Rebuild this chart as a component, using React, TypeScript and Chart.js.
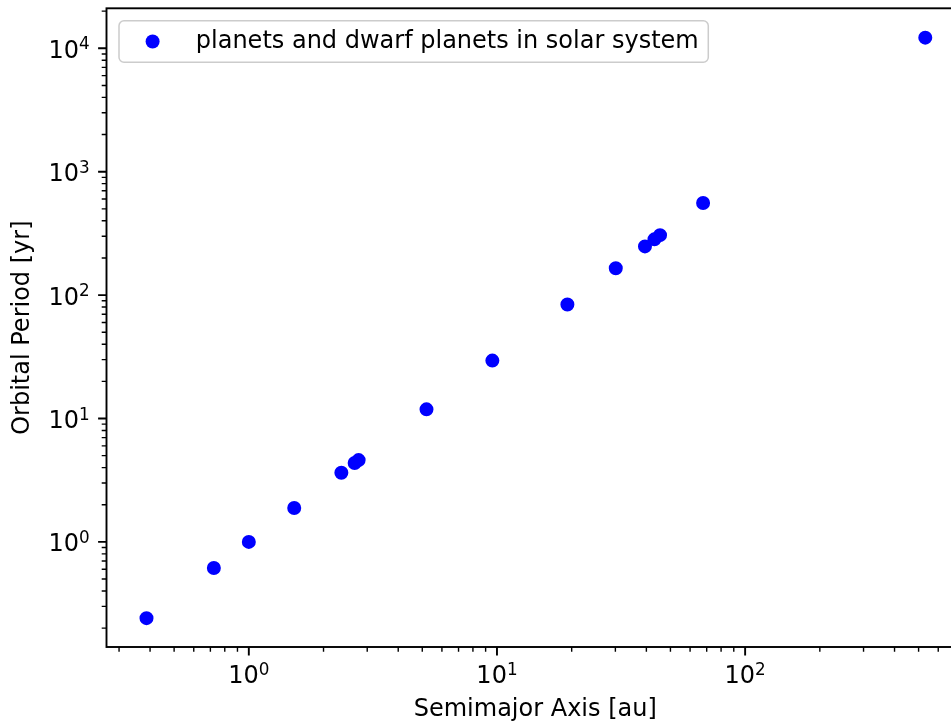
import { useEffect, useRef } from 'react';
import { Chart, registerables } from 'chart.js';

Chart.register(...registerables);

// Solar-system bodies: semimajor axis [au] vs. orbital period [yr]
const bodies = ['Mercury', 'Venus', 'Earth', 'Mars', 'Vesta', 'Juno', 'Ceres', 'Jupiter', 'Saturn', 'Uranus', 'Neptune', 'Pluto', 'Haumea', 'Makemake', 'Eris', 'Sedna'];
const semimajorAxisAu = [0.387, 0.723, 1.0, 1.524, 2.36, 2.67, 2.77, 5.2, 9.58, 19.22, 30.11, 39.48, 43.1, 45.4, 67.7, 532];
const orbitalPeriodYr = [0.241, 0.615, 1.0, 1.881, 3.63, 4.36, 4.6, 11.86, 29.46, 84.01, 164.8, 248.0, 283, 306, 557, 12200];

const xMajorTicks = [1, 10, 100];
const yMajorTicks = [1, 10, 100, 1000, 10000];
const xLimits = [0.267, 762];
const yLimits = [0.1407, 21090];

const seriesLabel = 'planets and dwarf planets in solar system';
const xTitle = 'Semimajor Axis [au]';
const yTitle = 'Orbital Period [yr]';

const FONT = 'DejaVu Sans';
const FONT_SIZE = 24;
const EXP_SIZE = FONT_SIZE * 0.7;
const EXP_RAISE = 8.3;

// 2..9 × 10^k between the limits
const minorTicks = (lo: number, hi: number) => {
  const out: number[] = [];
  for (let k = Math.floor(Math.log10(lo)); k <= Math.ceil(Math.log10(hi)); k++) {
    for (let m = 2; m <= 9; m++) {
      const v = m * Math.pow(10, k);
      if (v >= lo && v <= hi) out.push(v);
    }
  }
  return out;
};

// "10" with a raised, smaller exponent
const drawPowerLabel = (ctx: CanvasRenderingContext2D, v: number, x: number, baseline: number, align: 'center' | 'right') => {
  const e = String(Math.round(Math.log10(v)));
  ctx.font = `${FONT_SIZE}px "${FONT}"`;
  const wb = ctx.measureText('10').width;
  ctx.font = `${EXP_SIZE}px "${FONT}"`;
  const we = ctx.measureText(e).width;
  const total = wb + we;
  const x0 = align === 'center' ? x - total / 2 : x - total;
  ctx.font = `${FONT_SIZE}px "${FONT}"`;
  ctx.fillText('10', x0, baseline);
  ctx.font = `${EXP_SIZE}px "${FONT}"`;
  ctx.fillText(e, x0 + wb, baseline - EXP_RAISE);
};

// Axes frame, outward log ticks (major and minor) and decade labels
const framePlugin = {
  id: 'frame',
  afterDatasetsDraw(chart: any) {
    const { ctx, chartArea: a, scales } = chart;
    const xs = scales.x;
    const ys = scales.y;
    ctx.save();
    ctx.strokeStyle = '#000000';
    ctx.lineCap = 'butt';

    const drawX = (vals: number[], len: number, lw: number) => {
      ctx.lineWidth = lw;
      ctx.beginPath();
      vals.forEach((v) => {
        const px = xs.getPixelForValue(v);
        ctx.moveTo(px, a.bottom);
        ctx.lineTo(px, a.bottom + len);
      });
      ctx.stroke();
    };
    const drawY = (vals: number[], len: number, lw: number) => {
      ctx.lineWidth = lw;
      ctx.beginPath();
      vals.forEach((v) => {
        const py = ys.getPixelForValue(v);
        ctx.moveTo(a.left, py);
        ctx.lineTo(a.left - len, py);
      });
      ctx.stroke();
    };
    drawX(minorTicks(xLimits[0], xLimits[1]), 4.8, 1.4);
    drawX(xMajorTicks, 8.4, 1.9);
    drawY(minorTicks(yLimits[0], yLimits[1]), 4.8, 1.4);
    drawY(yMajorTicks, 8.4, 1.9);

    ctx.lineWidth = 1.9;
    ctx.strokeRect(a.left, a.top, a.right - a.left, a.bottom - a.top);

    ctx.fillStyle = '#000000';
    ctx.textAlign = 'left';
    ctx.textBaseline = 'alphabetic';
    xMajorTicks.forEach((v) => drawPowerLabel(ctx, v, xs.getPixelForValue(v), a.bottom + 36.3, 'center'));
    yMajorTicks.forEach((v) => drawPowerLabel(ctx, v, a.left - 16.8, ys.getPixelForValue(v) + 9.5, 'right'));
    ctx.restore();
  },
};

// Framed legend in the upper-left corner of the plot area
const legendPlugin = {
  id: 'boxLegend',
  afterDraw(chart: any) {
    const { ctx, chartArea: a } = chart;
    const ds = chart.data.datasets[0];
    const fs = FONT_SIZE;
    ctx.save();
    ctx.font = `${fs}px "${FONT}"`;
    const textW = ctx.measureText(ds.label).width;
    const pad = 0.4 * fs;
    const handle = 2 * fs;
    const gap = 0.8 * fs;
    const left = a.left + 12.5;
    const top = a.top + 12.4;
    const w = pad + handle + gap + textW + pad;
    const h = 41.6;

    ctx.beginPath();
    ctx.roundRect(left, top, w, h, 5);
    ctx.fillStyle = 'rgba(255,255,255,0.8)';
    ctx.fill();
    ctx.lineWidth = 1.5;
    ctx.strokeStyle = '#cccccc';
    ctx.stroke();

    const cy = top + h / 2;
    ctx.beginPath();
    ctx.arc(left + pad + handle / 2, cy, 7, 0, Math.PI * 2);
    ctx.fillStyle = '#0000ff';
    ctx.fill();

    ctx.fillStyle = '#000000';
    ctx.textBaseline = 'middle';
    ctx.textAlign = 'left';
    ctx.fillText(ds.label, left + pad + handle + gap, cy + 0.5);
    ctx.restore();
  },
};

export default function App() {
  const canvasRef = useRef<HTMLCanvasElement>(null);

  useEffect(() => {
    const canvas = canvasRef.current;
    if (!canvas) return;
    const points = semimajorAxisAu.map((a, i) => ({ x: a, y: orbitalPeriodYr[i], name: bodies[i] }));

    const chart = new Chart(canvas, {
      type: 'scatter',
      data: {
        datasets: [
          {
            label: seriesLabel,
            data: points,
            pointRadius: 6,
            pointHoverRadius: 6,
            borderWidth: 2,
            backgroundColor: '#0000ff',
            borderColor: '#0000ff',
          },
        ],
      },
      options: {
        responsive: false,
        animation: false,
        devicePixelRatio: 1,
        layout: { padding: { left: 0, top: 8.3, right: 8, bottom: 0 } },
        plugins: {
          legend: { display: false },
          tooltip: { enabled: false },
        },
        scales: {
          x: {
            type: 'logarithmic',
            position: 'bottom',
            min: xLimits[0],
            max: xLimits[1],
            grid: { display: false, drawTicks: false },
            border: { display: false },
            afterBuildTicks: (s: any) => {
              s.ticks = xMajorTicks.map((v) => ({ value: v }));
            },
            afterFit: (s: any) => {
              s.height = 78;
              s.paddingLeft = 0;
              s.paddingRight = 0;
              s.paddingTop = 0;
              s.paddingBottom = 0;
            },
            ticks: { display: false },
            title: {
              display: true,
              text: xTitle,
              color: '#000000',
              font: { family: FONT, size: FONT_SIZE },
              padding: { top: 0, bottom: 1 },
            },
          },
          y: {
            type: 'logarithmic',
            position: 'left',
            min: yLimits[0],
            max: yLimits[1],
            grid: { display: false, drawTicks: false },
            border: { display: false },
            afterBuildTicks: (s: any) => {
              s.ticks = yMajorTicks.map((v) => ({ value: v }));
            },
            afterFit: (s: any) => {
              s.width = 106.5;
              s.paddingLeft = 0;
              s.paddingRight = 0;
              s.paddingTop = 0;
              s.paddingBottom = 0;
            },
            ticks: { display: false },
            title: {
              display: true,
              text: yTitle,
              color: '#000000',
              font: { family: FONT, size: FONT_SIZE },
              padding: { top: 8, bottom: 0 },
            },
          },
        },
      },
      plugins: [framePlugin, legendPlugin],
    } as any);

    return () => chart.destroy();
  }, []);

  return (
    <div style={{ position: 'fixed', left: 0, top: 0, width: '100vw', height: '100vh', overflow: 'hidden', background: '#ffffff' }}>
      <canvas ref={canvasRef} width={972} height={725} style={{ display: 'block', width: 972, height: 725 }} />
    </div>
  );
}
